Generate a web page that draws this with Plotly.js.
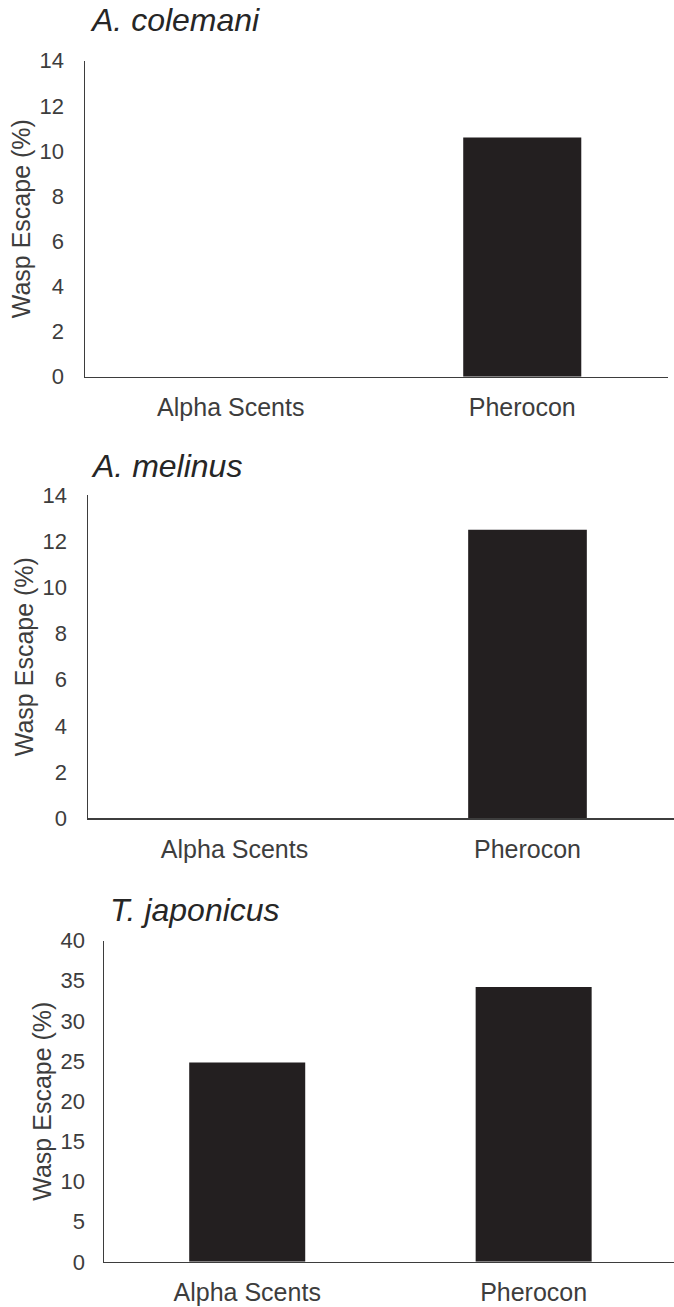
<!DOCTYPE html>
<html>
<head>
<meta charset="utf-8">
<script src="https://cdn.plot.ly/plotly-3.0.1.min.js"></script>
<style>html,body{margin:0;padding:0;background:#fff;}#chart{width:674px;height:1307px;}</style>
</head>
<body>
<div id="chart"></div>
<script>
const categories = ["Alpha Scents", "Pherocon"];
const colemaniValues = [0, 10.6];
const melinusValues = [0, 12.5];
const japonicusValues = [24.8, 34.2];
const panelTitles = ["A. colemani", "A. melinus", "T. japonicus"];
const yTitle = "Wasp Escape (%)";
const yTicks12 = [0, 2, 4, 6, 8, 10, 12, 14];
const yTicks3 = [0, 5, 10, 15, 20, 25, 30, 35, 40];

const H = 1307, W = 674;
const py = p => 1 - p / H;
const px = p => p / W;

const barColor = "#231f20";
const textColor = "#3d3d3d";
const fontFam = "Liberation Sans, Arial, sans-serif";

function bar(vals, xa, ya) {
  return {type: "bar", x: categories, y: vals, xaxis: xa, yaxis: ya,
    marker: {color: barColor, line: {width: 0}}, hoverinfo: "none"};
}

const data = [
  bar(colemaniValues, "x", "y"),
  bar(melinusValues, "x2", "y2"),
  bar(japonicusValues, "x3", "y3")
];

function xax(domain, range, anchor) {
  return {domain: domain, range: range, anchor: anchor, type: "category",
    showline: true, linecolor: textColor, linewidth: 1.5, ticks: "",
    showgrid: false, zeroline: false, ticklabelstandoff: 8,
    tickfont: {family: fontFam, size: 25, color: textColor}, fixedrange: true};
}
function yax(domain, range, tickvals, anchor, standoff) {
  return {domain: domain, range: range, anchor: anchor, tickvals: tickvals,
    showline: true, linecolor: textColor, linewidth: 1.5, ticks: "",
    showgrid: false, zeroline: false, ticklabelstandoff: standoff,
    tickfont: {family: fontFam, size: 22, color: textColor},
    title: {text: yTitle, font: {family: fontFam, size: 25, color: textColor}, standoff: 2},
    fixedrange: true};
}

const layout = {
  width: W, height: H,
  margin: {l: 0, r: 0, t: 0, b: 0},
  paper_bgcolor: "#fff", plot_bgcolor: "#fff",
  showlegend: false, bargap: 0.595,
  xaxis: xax([px(85), px(668)], [-0.5, 1.5], "y"),
  yaxis: yax([py(376.7), py(60.7)], [0, 14], yTicks12, "x", 15),
  xaxis2: xax([px(88), 1], [-0.5, 1.5], "y2"),
  yaxis2: yax([py(818.3), py(495)], [0, 14], yTicks12, "x2", 15),
  xaxis3: xax([px(104), 1], [-0.5, 1.49], "y3"),
  yaxis3: yax([py(1261.8), py(940.5)], [0, 40], yTicks3, "x3", 13),
  annotations: [
    {text: panelTitles[0], x: px(88), y: py(20), xref: "paper", yref: "paper", xanchor: "left", yanchor: "middle", showarrow: false, font: {family: fontFam, size: 32, color: "#262626", style: "italic"}},
    {text: panelTitles[1], x: px(89), y: py(466), xref: "paper", yref: "paper", xanchor: "left", yanchor: "middle", showarrow: false, font: {family: fontFam, size: 32, color: "#262626", style: "italic"}},
    {text: panelTitles[2], x: px(108), y: py(910), xref: "paper", yref: "paper", xanchor: "left", yanchor: "middle", showarrow: false, font: {family: fontFam, size: 32, color: "#262626", style: "italic"}}
  ]
};

Plotly.newPlot("chart", data, layout, {staticPlot: true, displayModeBar: false});
</script>
</body>
</html>
